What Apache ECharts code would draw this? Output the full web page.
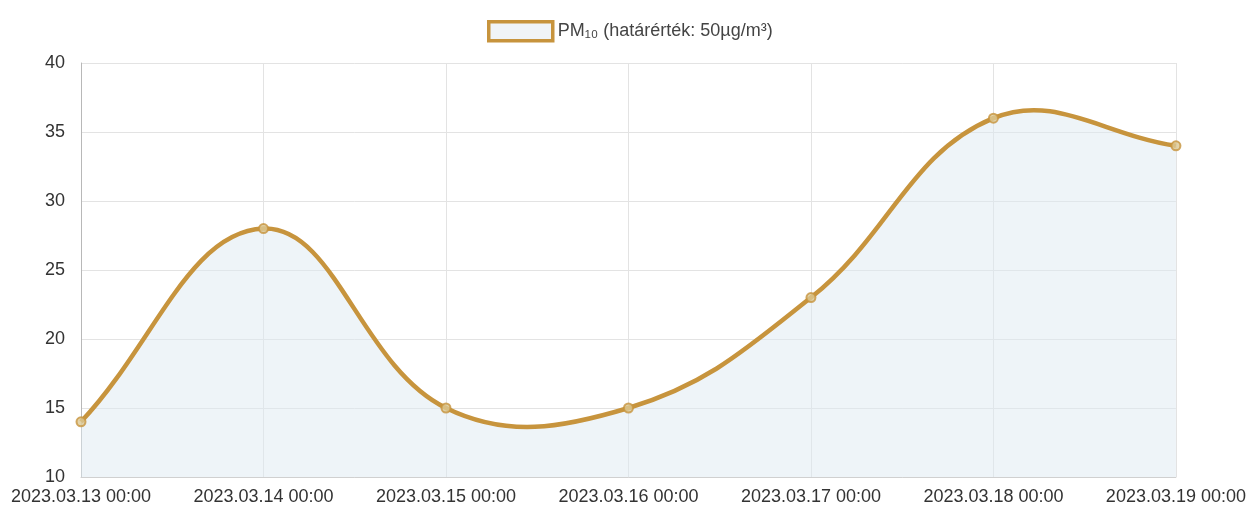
<!DOCTYPE html>
<html><head><meta charset="utf-8">
<script src="https://cdn.jsdelivr.net/npm/echarts@6/dist/echarts.min.js"></script>
<style>html,body{margin:0;padding:0;background:#fff}#c{width:1249px;height:522px}</style>
</head><body><div id="c"></div>
<script>
const categories = ["2023.03.13 00:00","2023.03.14 00:00","2023.03.15 00:00","2023.03.16 00:00","2023.03.17 00:00","2023.03.18 00:00","2023.03.19 00:00"];
const pm10 = [14, 28, 15, 15, 23, 36, 34];
const seriesName = "PM\u2081\u2080 (határérték: 50µg/m³)";
const yMin = 10, yMax = 40, yStep = 5;
const tension = 0.4;
const lineColor = '#c7943d';
const font = "'Liberation Sans',Arial,sans-serif";

// Chart.js-style cardinal spline through the points given by the axes
function renderCurve(params, api) {
  if (params.dataIndex !== 0) return null;
  const pts = pm10.map((v, i) => api.coord([i, v]));
  const n = pts.length;
  const cps = pts.map((cur, i) => {
    const prev = pts[i - 1] || cur, next = pts[i + 1] || cur;
    const d01 = Math.hypot(cur[0] - prev[0], cur[1] - prev[1]);
    const d12 = Math.hypot(next[0] - cur[0], next[1] - cur[1]);
    let s01 = d01 / (d01 + d12), s12 = d12 / (d01 + d12);
    if (isNaN(s01)) s01 = 0; if (isNaN(s12)) s12 = 0;
    const fa = tension * s01, fb = tension * s12;
    return {
      prev: [cur[0] - fa * (next[0] - prev[0]), cur[1] - fa * (next[1] - prev[1])],
      next: [cur[0] + fb * (next[0] - prev[0]), cur[1] + fb * (next[1] - prev[1])]
    };
  });
  let d = 'M' + pts[0][0] + ',' + pts[0][1];
  for (let i = 0; i < n - 1; i++) {
    const c1 = cps[i].next, c2 = cps[i + 1].prev, p = pts[i + 1];
    d += ' C' + c1[0] + ',' + c1[1] + ' ' + c2[0] + ',' + c2[1] + ' ' + p[0] + ',' + p[1];
  }
  const base = api.coord([0, yMin])[1];
  const area = d + ' L' + pts[n - 1][0] + ',' + base + ' L' + pts[0][0] + ',' + base + ' Z';
  return {
    type: 'group',
    children: [
      {type: 'path', shape: {pathData: area}, style: {fill: 'rgba(222,233,241,0.5)', stroke: null}},
      {type: 'path', shape: {pathData: d}, style: {fill: null, stroke: lineColor, lineWidth: 4.5, lineJoin: 'round'}}
    ]
  };
}

const chart = echarts.init(document.getElementById('c'));
chart.setOption({
  animation: false,
  legend: {
    top: 15, left: 482,
    itemWidth: 64, itemHeight: 19, itemGap: 8,
    icon: 'rect',
    textStyle: {fontFamily: font, fontSize: 18, color: '#444'},
    data: [{name: seriesName, itemStyle: {color: '#f0f4f7', borderColor: lineColor, borderWidth: 3.5}}]
  },
  grid: {left: 81, right: 67, top: 63, bottom: 45},
  xAxis: {
    type: 'category', data: categories, boundaryGap: false,
    axisLine: {show: true, lineStyle: {color: '#d0d0d0'}},
    axisTick: {show: false},
    axisLabel: {fontFamily: font, fontSize: 18, color: '#333', margin: 11, interval: 0},
    splitLine: {show: true, lineStyle: {color: '#e3e3e3'}}
  },
  yAxis: {
    type: 'value', min: yMin, max: yMax, interval: yStep,
    axisLine: {show: true, lineStyle: {color: '#b8b8b8'}},
    axisTick: {show: false},
    axisLabel: {fontFamily: font, fontSize: 18, color: '#333', margin: 16},
    splitLine: {show: true, lineStyle: {color: '#e3e3e3'}}
  },
  series: [
    {
      name: seriesName, type: 'custom', renderItem: renderCurve,
      data: pm10.map((v, i) => [i, v]), encode: {x: 0, y: 1}, clip: false, z: 2, silent: true
    },
    {
      name: seriesName, type: 'scatter', data: pm10,
      symbol: 'circle', symbolSize: 9, z: 3,
      itemStyle: {color: '#dcc893', borderColor: lineColor, borderWidth: 2}
    }
  ]
});
</script></body></html>
